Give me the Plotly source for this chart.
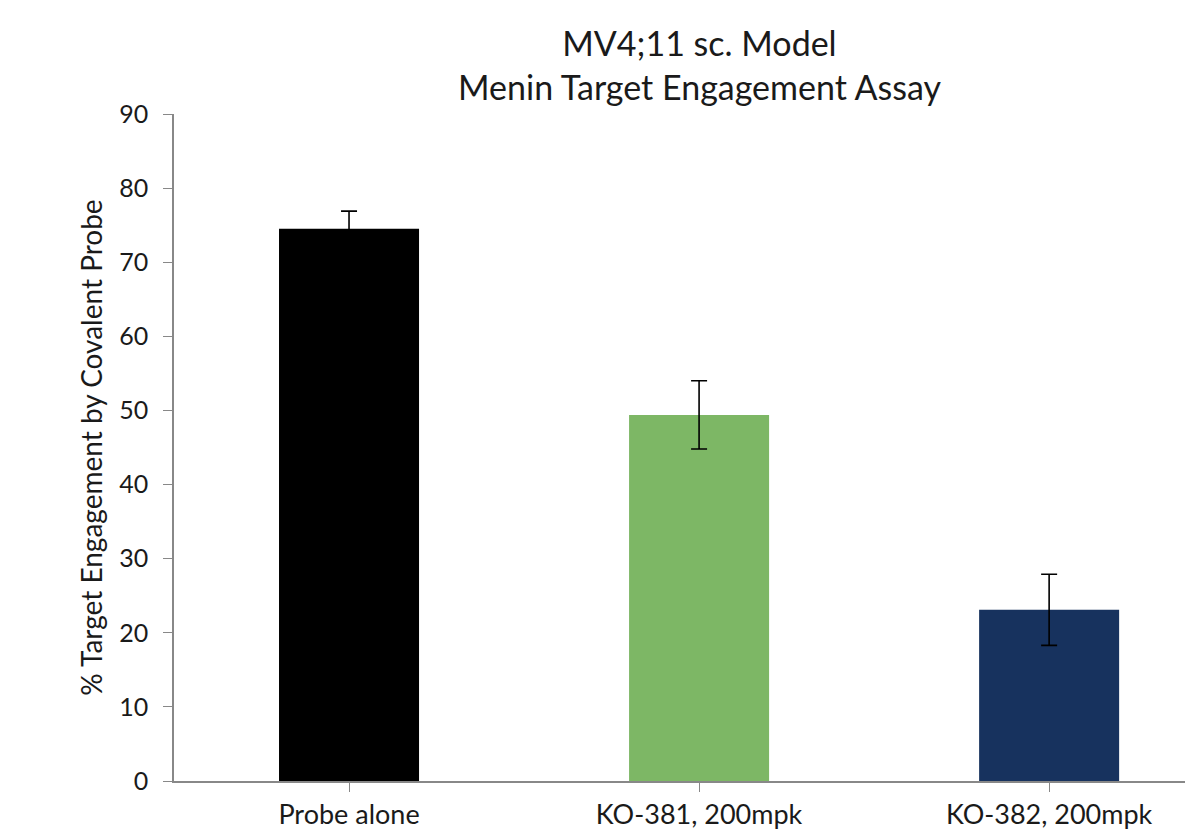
import plotly.graph_objects as go

categories = ["Probe alone", "KO-381, 200mpk", "KO-382, 200mpk"]
values = [74.5, 49.4, 23.1]
errors = [2.4, 4.6, 4.8]
colors = ["#000000", "#7DB765", "#17325E"]

FONT = "Lato"

fig = go.Figure()
fig.add_trace(go.Bar(
    x=[0, 1, 2],
    y=values,
    width=0.4,
    marker=dict(color=colors, line=dict(width=0)),
    error_y=dict(type="data", array=errors, visible=True, color="#000000",
                 thickness=1.6, width=8),
))

fig.update_layout(
    width=1193, height=839,
    margin=dict(l=166, r=8, t=106, b=66),
    paper_bgcolor="white", plot_bgcolor="white",
    showlegend=False,
    font=dict(family=FONT, color="#000000"),
    annotations=[dict(
        text="MV4;11 sc. Model<br>Menin Target Engagement Assay",
        xref="paper", yref="paper", x=0.516, y=1, yshift=5,
        xanchor="center", yanchor="bottom", showarrow=False,
        font=dict(family=FONT, size=34, color="#1a1a1a"),
    )],
)
fig.update_xaxes(
    range=[-0.5, 2.411],
    tickmode="array", tickvals=[0, 1, 2], ticktext=categories,
    tickson="boundaries", ticks="outside", ticklen=9, tickcolor="#888888",
    showline=True, linecolor="#888888", linewidth=1.5,
    showgrid=False, zeroline=False,
    tickfont=dict(family=FONT, size=27, color="#1a1a1a"),
)
fig.update_yaxes(
    range=[0, 90], dtick=10,
    ticks="outside", ticklen=9, tickcolor="#888888",
    ticklabelstandoff=10,
    showline=True, linecolor="#888888", linewidth=1.5,
    showgrid=False, zeroline=False,
    tickfont=dict(family=FONT, size=25, color="#1a1a1a"),
    title=dict(text="% Target Engagement by Covalent Probe",
               font=dict(family=FONT, size=28, color="#1a1a1a"), standoff=8),
)

fig.write_html("out.html")
